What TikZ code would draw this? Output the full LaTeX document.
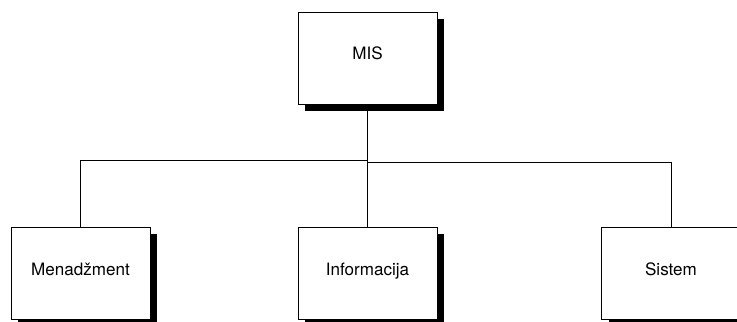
\documentclass[tikz,border=0pt]{standalone}
\usepackage{fontspec}
\setmainfont{TeX Gyre Heros}
\usetikzlibrary{positioning,shadows}
\tikzset{
  wire/.style    = {line width=0.7pt},
  unit/.style    = {draw, fill=white, line width=0.7pt, minimum width=104.25pt,
                    minimum height=69pt, inner sep=2pt,
                    text height=9.2pt, text depth=6.6pt,
                    font=\fontsize{12.8}{15}\selectfont,
                    drop shadow={fill=black, opacity=1,
                      shadow xshift=5.25pt, shadow yshift=-4.9pt}},
}

\begin{document}
\begin{tikzpicture}[x=0.75pt, y=0.75pt]
  \useasboundingbox (0,0) rectangle (737,321);
  \node[unit] (mis) at (367.5,263) {MIS};
  \node[unit] (men) at (80.5,47.3) {Menadžment};
  \node[unit] (inf) at (367.5,47.3) {Informacija};
  \node[unit] (sis) at (671,47.3) {Sistem};
  \coordinate (hubl) at (367.5,161);
  \coordinate (hubr) at (367.5,159);
  \draw[wire] (mis.south) -- (inf.north);
  \draw[wire] (men.north) |- (hubl);
  \draw[wire] (sis.north) |- (hubr);
\end{tikzpicture}
\end{document}
